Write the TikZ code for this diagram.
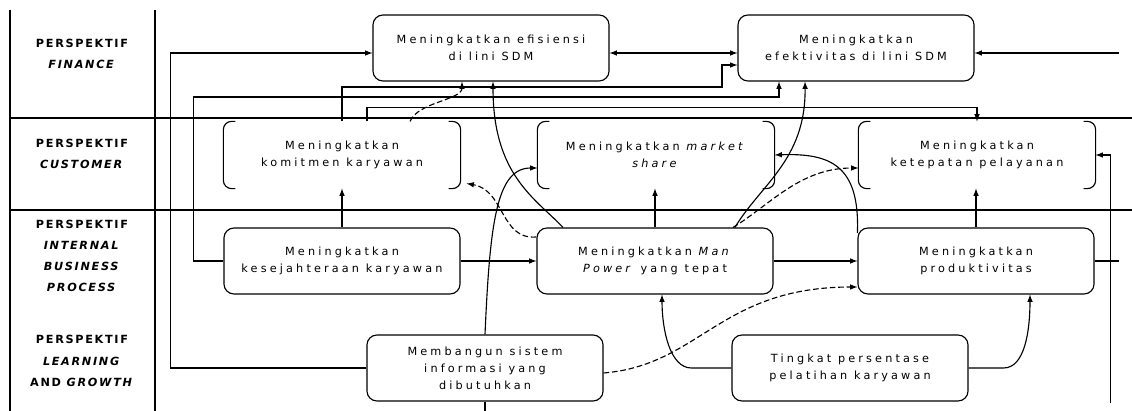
\documentclass[tikz,border=0pt]{standalone}
\usepackage{fontspec}
\newfontfamily\boxfont[LetterSpace=28]{DejaVu Sans}
\newfontfamily\sidefont[LetterSpace=15]{DejaVu Sans}
\usepackage{tikz}
\usetikzlibrary{calc,arrows}

\begin{document}
\begin{tikzpicture}[x=0.025cm,y=-0.025cm,line width=0.8pt,>=latex,
		goal node/.style = {draw,rounded corners=0.25cm,minimum width=5.9cm,minimum height=1.65cm,
			align=center,inner sep=1pt,font=\boxfont\fontsize{8}{12}\selectfont},
		cust node/.style = {goal node,draw=none},
		side node/.style = {align=center,font=\sidefont\bfseries\fontsize{8}{15}\selectfont},
		dashed link/.style = {dash pattern=on 4pt off 2pt}]
			\useasboundingbox (0,0) rectangle (1132,411);
			% grid of the perspectives
			\draw (10,10) -- (10,411);
			\draw (155,10) -- (155,411);
			\draw (10,118) -- (1132,118);
			\draw (10,210) -- (1132,210);
			\node[side node] at (82,54) (pfin) {PERSPEKTIF\\\textit{FINANCE}};
			\node[side node] at (82,154) (pcus) {PERSPEKTIF\\\textit{CUSTOMER}};
			\node[side node] at (82,256) (pint) {PERSPEKTIF\\\textit{INTERNAL}\\\textit{BUSINESS}\\\textit{PROCESS}};
			\node[side node] at (82,361) (plg) {PERSPEKTIF\\\textit{LEARNING}\\AND \textit{GROWTH}};
			% goals
			\node[goal node] at (491,48) (eff) {Meningkatkan efisiensi\\di lini SDM};
			\node[goal node] at (856,48) (efk) {Meningkatkan\\efektivitas di lini SDM};
			\node[cust node] at (342,155) (kom) {Meningkatkan\\komitmen karyawan};
			\node[cust node] at (656,155) (mkt) {Meningkatkan \textit{market}\\\textit{share}};
			\node[cust node] at (977,155) (ktp) {Meningkatkan\\ketepatan pelayanan};
			\node[goal node] at (342,261) (ksj) {Meningkatkan\\kesejahteraan karyawan};
			\node[goal node] at (655,261) (mp) {Meningkatkan \textit{Man}\\\textit{Power} yang tepat};
			\node[goal node] at (976,261) (prd) {Meningkatkan\\produktivitas};
			\node[goal node] at (485,368) (sis) {Membangun sistem\\informasi yang\\dibutuhkan};
			\node[goal node] at (850,368) (plt) {Tingkat persentase\\pelatihan karyawan};
			\foreach \n in {kom,mkt,ktp} {
				\draw[rounded corners=0.2cm] ($(\n.south west)+(12,0)$) -| (\n.north west) -- ++(12,0);
				\draw[rounded corners=0.2cm] ($(\n.south east)+(-12,0)$) -| (\n.north east) -- ++(-12,0);
			}
			% finance links
			\draw[->] (sis.west) -- ++(-196,0) |- ($(eff.west)+(0,5)$);
			\draw[<->] ($(eff.east)+(0,5)$) -- ($(efk.west)+(0,5)$);
			\draw[<-] ($(efk.east)+(0,5)$) -- ++(144,0);
			\draw[->] (kom.north) |- (722,87) |- ($(efk.west)+(0,17)$);
			\draw[->] (ksj.west) -- ++(-30,0) |- (779,97) -- (779,97 |- efk.south);
			\draw[->] ($(kom.north)+(25,0)$) |- ($(ktp.north)+(0,-14)$) -- (ktp.north);
			\draw[->,dashed link] ($(kom.north)+(68,0)$) .. controls (418,102) and (462,100) .. ($(eff.south)+(-29,0)$);
			\draw[->] ($(mp.north)+(-92,0)$) .. controls (535,198) and (493,175) .. ($(eff.south)+(2,0)$);
			\draw[->] ($(mp.north)+(80,0)$) .. controls (760,185) and (806,160) .. ($(efk.south)+(-51,0)$);
			% customer links
			\draw[->] (sis.north) .. controls (490,220) and (497,168) .. ($(mkt.west)+(0,13)$);
			\draw[->,dashed link] ($(mp.west)+(0,-24)$) .. controls (500,240) and (505,190) .. ($(kom.south east)+(6,-5)$);
			\draw[->,dashed link] ($(mp.north)+(78,0)$) .. controls (770,205) and (800,168) .. ($(ktp.west)+(0,13)$);
			\draw[->] ($(prd.west)+(0,-28)$) .. controls (860,165) and (830,153) .. (mkt.east);
			\draw[->] (ksj.north) -- (kom.south);
			\draw[->] (mp.north) -- (mp.north |- mkt.south);
			\draw[->] (prd.north) -- (prd.north |- ktp.south);
			% internal links
			\draw[->] (ksj.east) -- (mp.west);
			\draw[->] (mp.east) -- (prd.west);
			\draw (prd.east) -- ++(24,0);
			\draw[<-] (ktp.east) -- ++(15,0) -- ++(0,248);
			% learning links
			\draw[->,dashed link] ($(sis.east)+(0,5)$) .. controls (700,365) and (720,287) .. ($(prd.west)+(0,26)$);
			\draw[->] (plt.west) -- ++(-40,0) .. controls (670,368) and (662,330) .. ($(mp.south)+(7,0)$);
			\draw[->] (plt.east) -- ++(35,0) .. controls (1025,368) and (1030,330) .. ($(prd.south)+(54,0)$);
			\draw (sis.south) -- ++(0,9);
		\end{tikzpicture}
\end{document}
